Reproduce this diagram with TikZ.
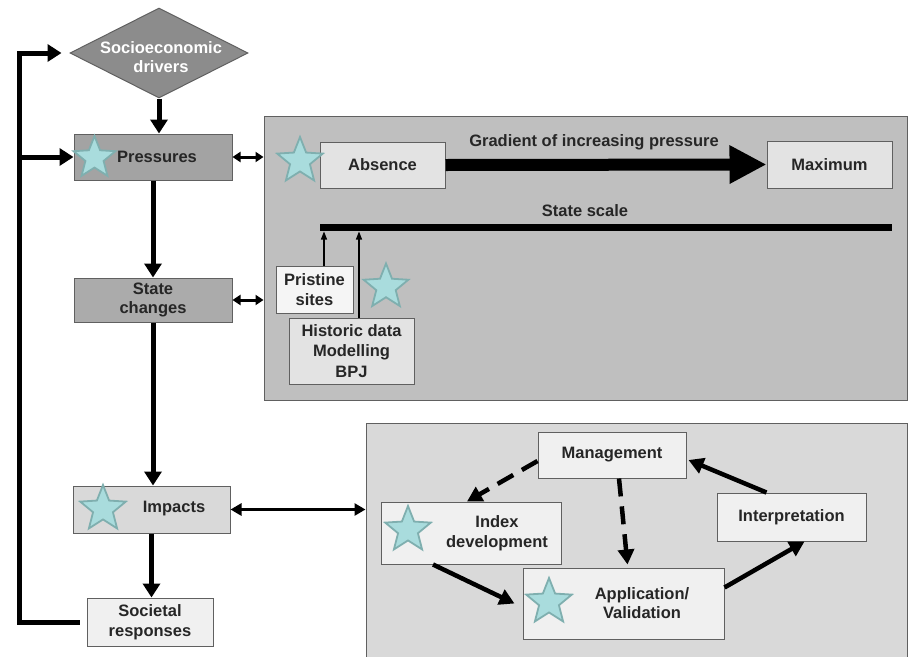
\documentclass[tikz,border=0pt]{standalone}
\usepackage{fontspec}
\setmainfont{Liberation Sans}
\usetikzlibrary{shapes.geometric,arrows.meta,calc}
\definecolor{starfill}{HTML}{A9DCDD}
\definecolor{stardraw}{HTML}{7FAFAF}
\definecolor{edge}{HTML}{606060}
\begin{document}
\begin{tikzpicture}[x=1pt,y=-1pt,
  bx/.style={draw=edge, line width=1pt, inner sep=0pt, align=center,
    font=\bfseries\fontsize{16.5}{19.5}\selectfont, text=black!85},
  txt/.style={inner sep=0pt, align=center, font=\bfseries\fontsize{16.5}{19.5}\selectfont, text=black!85},
  panel/.style={draw=edge, line width=1pt, inner sep=0pt},
  star5/.style={star, star points=5, star point ratio=2.3, fill=starfill,
    draw=stardraw, line width=1.8pt, inner sep=0pt, minimum size=#1},
  arr/.style={line width=5pt, -{Triangle[width=17pt,length=14pt]}},
  darr/.style={line width=3pt, {Triangle[width=10pt,length=8pt]}-{Triangle[width=10pt,length=8pt]}},
  sarr/.style={line width=4.5pt, -{Triangle[width=16pt,length=15pt]}},
  dsarr/.style={sarr, dash pattern=on 18pt off 10pt},
  thinarr/.style={line width=1.2pt, -{Triangle[width=6pt,length=8pt]}},
]
\useasboundingbox[fill=white] (0,0) rectangle (909,656);

% panels
\node[panel, fill=black!25, minimum width=643pt, minimum height=284pt] (p1) at (585.5,258) {};
\node[panel, fill=black!15, minimum width=541pt, minimum height=280pt] (p2) at (636.5,563) {};

% left column
\node[diamond, fill=black!45, draw=edge, line width=1pt, inner sep=0pt,
  minimum width=178pt, minimum height=90pt] (dia) at (159,53) {};
\node[txt, text=white] (diat) at (161,57) {Socioeconomic\\drivers};
\node[bx, fill=black!36, minimum width=158pt, minimum height=46pt] (pr) at (153,157) {};
\node[txt] (prt) at (157,157) {Pressures};
\node[bx, fill=black!33, minimum width=158pt, minimum height=44pt] (st) at (153,300) {State\\changes};
\node[bx, fill=black!15, minimum width=157pt, minimum height=47pt] (imp) at (151.5,509.5) {};
\node[txt] (impt) at (174,509) {Impacts};
\node[bx, fill=black!6, minimum width=126pt, minimum height=48pt] (soc) at (150,622) {Societal\\responses};

\node[star5=44pt] (s1) at (94.5,158) {};
\node[star5=48pt] (s2) at (103,509) {};

% left column connectors
\coordinate (fbx) at (19,300);
\draw[arr] ($(soc.west)+(-7,0)$) -| (fbx |- dia.west) -- ([xshift=-8pt]dia.west);
\draw[arr] (fbx |- pr.west) -- (pr.west);
\draw[arr] (dia.south) -- (dia.south |- pr.north);
\draw[arr] (pr.south) -- (st.north);
\draw[arr] (st.south) -- (st.south |- imp.north);
\draw[arr] (imp.south) -- (imp.south |- soc.north);
\draw[darr] (pr.east) -- (pr.east -| p1.west);
\draw[darr] (st.east) -- (st.east -| p1.west);
\draw[darr, {Triangle[width=12pt,length=11pt]}-{Triangle[width=12pt,length=11pt]}] (imp.east) -- (imp.east -| p2.west);

% panel 1
\node[bx, fill=black!11, minimum width=125pt, minimum height=46pt] (abs) at (382.5,165) {Absence};
\node[bx, fill=black!11, minimum width=125pt, minimum height=47pt] (max) at (829.5,164.5) {Maximum};
\node[star5=48pt] (s3) at (300,161) {};
\draw[line width=12pt, -{Triangle[width=36pt,length=37pt]}] (abs.east) -- (max.west);
\node[txt] (grad) at (594,142) {Gradient of increasing pressure};
\coordinate (sl1) at (320,227);
\coordinate (sl2) at (892,227);
\draw[line width=7pt] (sl1) -- (sl2);
\node[txt] (sst) at (585,211) {State scale};
\node[bx, fill=black!4, minimum width=77pt, minimum height=47pt] (pris) at (314.5,289.5) {Pristine\\sites};
\node[bx, fill=black!11, minimum width=125pt, minimum height=66pt,
  font=\bfseries\fontsize{16.5}{20.5}\selectfont] (hist) at (351.5,351) {Historic data\\Modelling\\BPJ};
\node[star5=47pt] (s4) at (386,287) {};
\coordinate (a1) at (324,231.5);
\coordinate (a2) at (359,231.5);
\draw[thinarr] (pris.north -| a1) -- (a1);
\draw[thinarr] (hist.north -| a2) -- (a2);

% panel 2
\node[bx, fill=black!6, minimum width=148pt, minimum height=46pt] (mg) at (612,455) {Management};
\node[bx, fill=black!6, minimum width=180pt, minimum height=62pt] (idx) at (471,533) {};
\node[txt] (idxt) at (497,533) {Index\\development};
\node[bx, fill=black!6, minimum width=149pt, minimum height=48pt] (ip) at (791.5,517) {Interpretation};
\node[bx, fill=black!6, minimum width=201pt, minimum height=71pt] (app) at (623.5,603.5) {};
\node[txt] (appt) at (642,603) {Application/\\Validation};
\node[star5=48pt] (s5) at (408,530) {};
\node[star5=48pt] (s6) at (549,602) {};

\draw[dsarr] ($(mg.west)+(0,6)$) -- ($(idx.north)+(-4,0)$);
\draw[dsarr] ($(mg.south)+(7,0)$) -- ($(app.north)+(4,-3)$);
\draw[sarr] ($(idx.south)+(-38,0)$) -- ($(app.west)+(-8,0)$);
\draw[sarr] ($(app.north east)+(0,20)$) -- ($(ip.south)+(13,0)$);
\draw[sarr] ($(ip.north)+(-25,0)$) -- ($(mg.east)+(2,5)$);
\end{tikzpicture}
\end{document}
